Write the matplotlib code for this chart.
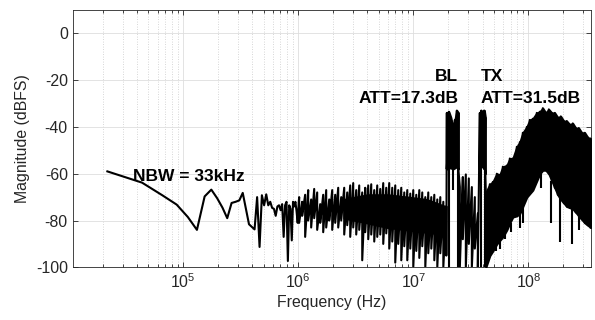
import numpy as np
import matplotlib
matplotlib.use("Agg")
import matplotlib.pyplot as plt
from matplotlib.ticker import LogLocator, NullFormatter

# FFT bin spacing (NBW = 1.5 x bin for Hann window)
bin_hz = 22e3

# low-frequency bins, k = 1..46 (dBFS)
bin_db = [-59, -63.8, -69.2, -73.2, -78.5, -84, -69.7, -66.8, -70.5, -74.5,
          -79, -72.5, -72, -71.4, -68.2, -75, -81.6, -82.7, -83.8, -70,
          -91.3, -69.2, -73.5, -68.8, -73.5, -72, -74.6, -75, -78, -74,
          -73.5, -75.6, -73, -87, -73.5, -72, -97.3, -73.5, -75, -88.5,
          -72, -74, -72, -76, -81, -72]

# dense noise floor 1 - 19 MHz: upper / lower reach of the trace
noise_mhz = [1.02, 1.083, 1.15, 1.222, 1.297, 1.378, 1.463, 1.554, 1.65, 1.752,
             1.861, 1.976, 2.098, 2.228, 2.366, 2.512, 2.668, 2.833, 3.008, 3.194,
             3.392, 3.602, 3.825, 4.062, 4.313, 4.58, 4.864, 5.164, 5.484, 5.824,
             6.184, 6.567, 6.974, 7.406, 7.864, 8.351, 8.868, 9.417, 10.0, 10.62,
             11.28, 11.97, 12.72, 13.5, 14.34, 15.23, 16.17, 17.17, 18.24, 19.37]
noise_hi = [-70, -72, -69, -67, -71, -66.5, -68, -73, -69, -67,
            -71, -67, -69, -66, -70, -66, -68, -65, -64, -67,
            -65, -68, -66, -65, -64.5, -67, -65, -66.5, -64, -66,
            -64, -66, -65, -67, -66, -68, -67, -68.5, -67, -69,
            -67, -68, -70, -68, -70, -69, -71, -70, -72, -74]
noise_lo = [-81, -78, -87, -80, -83, -79, -84, -81, -85, -83,
            -80, -84, -81, -83, -80, -86, -82, -87, -83, -86,
            -84, -97, -85, -88, -86, -89, -87, -86, -90, -85.5,
            -92, -89, -98, -90, -97, -91, -97, -92, -100, -93,
            -96, -91, -100, -94, -92, -97, -100, -94, -100, -95]

# solid core of the noise floor where the trace is too dense to resolve
core_mhz = [2.5, 4.0, 6.0, 9.0, 13.0, 19.0]
core_hi = [-71, -69, -69, -70, -71, -74]
core_lo = [-79, -81, -83, -84, -85, -86]

# BL tone band
bl_mhz = [19.57, 20.37, 21.2, 22.07, 22.97, 23.91, 24.64]
bl_hi = [-34, -33.5, -36, -40, -37, -33, -34]
bl_lo = [-58, -57.5, -57.5, -58, -57.5, -57, -58]

# hump between BL and TX
hump_mhz = [25.38, 26.95, 28.61, 30.38, 32.27, 34.25, 36.38]
hump_hi = [-65.7, -61.4, -60.3, -62, -65.7, -70, -77]
hump_lo = [-100, -88, -100, -90, -100, -92, -100]

# TX tone band
tx_mhz = [37.86, 39.01, 40.2, 41.42, 42.26]
tx_hi = [-34, -33, -35, -33, -36]
tx_lo = [-58, -57, -57, -58, -60]

# wideband emission above TX
wb_mhz = [42.68, 46.23, 49.09, 53.18, 56.45, 59.95, 64.94, 68.96, 73.22, 79.32,
          84.23, 89.43, 96.85, 102.8, 109.2, 118.3, 125.6, 133.4, 141.6, 150.4,
          159.7, 169.5, 180.0, 191.1, 203.0, 215.4, 228.8, 242.9, 257.9, 273.8,
          290.8, 308.8, 327.8, 348.1]
wb_hi = [-68, -64.5, -63.5, -60, -60.5, -57, -56.5, -53.5, -53.5, -48.5,
         -46.5, -42.5, -40, -37, -36.5, -34, -33.5, -32, -34, -32.5,
         -34, -34, -36, -35.5, -37.5, -37.5, -39, -38.5, -40.5, -40.5,
         -42.5, -42.5, -44.5, -45]
wb_lo = [-100, -95, -93, -90, -88.5, -87, -84, -81, -78.5, -78,
         -77, -74, -70, -68.5, -67, -63, -60, -58.5, -58.5, -60,
         -63, -66, -69, -71, -72.5, -74, -74.5, -75, -76.5, -78,
         -79.5, -81, -82, -83]

# isolated deep notches
spike_mhz = [20.37, 22.07, 24.64, 39.1, 41.9, 44.4, 48.1, 52.8, 56.5, 62.4,
             70.6, 84.2, 90.0, 129.4, 157.0, 190.0, 240.0, 277.0]
spike_top = [-57, -57, -57, -57, -57, -80, -85, -88, -88, -85,
             -81, -76, -73, -59, -63, -70, -74, -78]
spike_db = [-100, -67, -100, -100, -100, -98, -94, -93, -92, -88,
            -85, -83, -81, -66, -81, -89, -90, -84]


def zigzag(mhz, hi, lo):
    f = np.repeat(np.asarray(mhz) * 1e6, 2)
    y = np.column_stack([hi, lo]).ravel()
    return f, y


plt.rcParams["font.family"] = ["Liberation Sans", "DejaVu Sans"]
plt.rcParams["mathtext.fontset"] = "custom"
plt.rcParams["mathtext.rm"] = "Liberation Sans"
plt.rcParams["axes.unicode_minus"] = False

ink = "#262626"
lw = 1.5
fig = plt.figure(figsize=(5.95, 3.2), dpi=100)
ax = fig.add_axes([0.1222, 0.1647, 0.8711, 0.8041])

parts_f = [bin_hz * np.arange(1, len(bin_db) + 1)]
parts_y = [np.array(bin_db)]
for m, h, l in [(noise_mhz, noise_hi, noise_lo), (bl_mhz, bl_hi, bl_lo),
                (hump_mhz, hump_hi, hump_lo), (tx_mhz, tx_hi, tx_lo),
                (wb_mhz, wb_hi, wb_lo)]:
    f, y = zigzag(m, h, l)
    parts_f.append(f)
    parts_y.append(y)
ax.plot(np.concatenate(parts_f), np.concatenate(parts_y), color="k", lw=lw, zorder=3)

for m, h, l in [(core_mhz, core_hi, core_lo), (bl_mhz, bl_hi, bl_lo),
                (tx_mhz, tx_hi, tx_lo), (wb_mhz, wb_hi, wb_lo)]:
    ax.fill_between(np.asarray(m) * 1e6, l, h, color="k", lw=lw, edgecolor="k", zorder=3)

ax.vlines(np.asarray(spike_mhz) * 1e6, spike_db, spike_top, color="k", lw=lw, zorder=3)

ax.set_xscale("log")
ax.set_xlim(1.1e4, 3.5e8)
ax.set_ylim(-100, 10)
ax.set_yticks([-100, -80, -60, -40, -20, 0])
ax.xaxis.set_major_locator(LogLocator(base=10, numticks=10))
ax.xaxis.set_minor_locator(LogLocator(base=10, subs=np.arange(2, 10), numticks=20))
ax.xaxis.set_minor_formatter(NullFormatter())

ax.grid(True, which="major", color="#dedede", lw=0.6)
ax.grid(True, which="minor", axis="x", color="#c9c9c9", lw=0.6, ls=(0, (1, 2)))
ax.set_axisbelow(True)

ax.tick_params(which="both", direction="in", top=True, right=True, colors=ink,
               labelsize=11.4, width=0.6)
ax.tick_params(which="major", length=3.6)
ax.tick_params(which="minor", length=2.4)
for s in ax.spines.values():
    s.set_color(ink)
    s.set_linewidth(0.6)

ax.set_xlabel("Frequency (Hz)", fontsize=11.4, color=ink, labelpad=3)
ax.set_ylabel("Magnitude (dBFS)", fontsize=11.4, color=ink, labelpad=4)

tkw = dict(fontsize=12.5, fontweight="bold", color="k", va="baseline", zorder=4)
ax.text(3.7e4, -63.1, "NBW = 33kHz", ha="left", **tkw)
ax.text(2.45e7, -20.3, "BL", ha="right", **tkw)
ax.text(2.45e7, -29.6, "ATT=17.3dB", ha="right", **tkw)
ax.text(3.84e7, -20.3, "TX", ha="left", **tkw)
ax.text(3.84e7, -29.6, "ATT=31.5dB", ha="left", **tkw)

fig.savefig("out.png", dpi=100)
